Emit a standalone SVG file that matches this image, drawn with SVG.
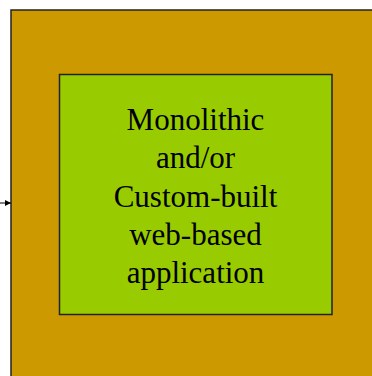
<svg xmlns="http://www.w3.org/2000/svg" width="372" height="376" viewBox="0 0 372 376">
<defs>
<marker id="ah" markerWidth="6" markerHeight="6" refX="6" refY="3" orient="auto" markerUnits="userSpaceOnUse">
<path d="M0,0 L6,3 L0,6 Z" fill="#000"/>
</marker>
</defs>
<style>
.box{stroke:#222;stroke-width:1.5}
.lbl{font-family:"Liberation Serif","Times New Roman",serif;font-size:31px;fill:#000;text-anchor:middle}
</style>
<rect width="372" height="376" fill="#fff"/>
<g id="outer">
<rect class="box" x="11" y="10" width="400" height="400" fill="#CC9900"/>
</g>
<g id="app">
<rect class="box" x="59.5" y="74.5" width="272.5" height="240" fill="#99CC00"/>
<text class="lbl" x="195.5" y="130">Monolithic</text>
<text class="lbl" x="195.5" y="168">and/or</text>
<text class="lbl" x="195.5" y="206.5">Custom-built</text>
<text class="lbl" x="195.5" y="244.5">web-based</text>
<text class="lbl" x="195.5" y="283">application</text>
</g>
<g id="connectors">
<line x1="0" y1="203" x2="11" y2="203" stroke="#000" stroke-width="1" marker-end="url(#ah)"/>
</g>
</svg>
